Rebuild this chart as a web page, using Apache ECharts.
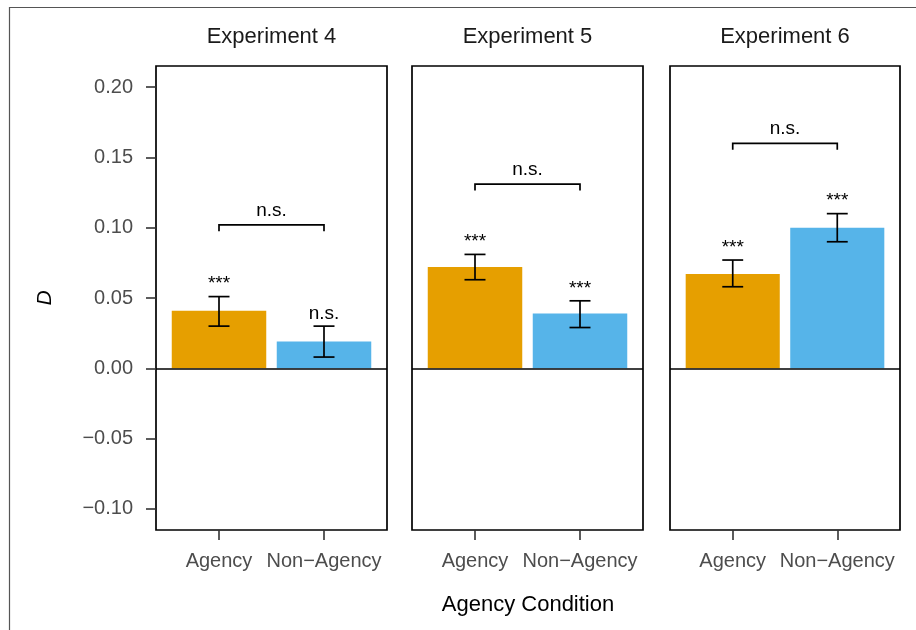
<!DOCTYPE html>
<html>
<head>
<meta charset="utf-8">
<script src="https://cdn.jsdelivr.net/npm/echarts@6/dist/echarts.min.js"></script>
<style>html,body{margin:0;padding:0;background:#fff;}#c{width:916px;height:630px;}</style>
</head>
<body>
<div id="c"></div>
<script>
// ---- data ----
const experiments = ['Experiment 4', 'Experiment 5', 'Experiment 6'];
const categories = ['Agency', 'Non\u2212Agency'];
const agencyMeans = [0.041, 0.072, 0.067];
const agencyLower = [0.030, 0.063, 0.058];
const agencyUpper = [0.051, 0.081, 0.077];
const agencySig = ['***', '***', '***'];
const nonAgencyMeans = [0.019, 0.039, 0.100];
const nonAgencyLower = [0.008, 0.029, 0.090];
const nonAgencyUpper = [0.030, 0.048, 0.110];
const nonAgencySig = ['n.s.', '***', '***'];
const bracketY = [0.102, 0.131, 0.160];
const bracketLabel = ['n.s.', 'n.s.', 'n.s.'];
const yTicks = [-0.10, -0.05, 0.00, 0.05, 0.10, 0.15, 0.20];

// ---- style ----
const FONT = 'Liberation Sans, Arial, Helvetica, sans-serif';
const colors = ['#E69F00', '#56B4E9'];
const panels = [{left: 156, width: 231}, {left: 412, width: 231}, {left: 670, width: 230}];
const gridTop = 66, gridBottom = 100; // 630-530

const chart = echarts.init(document.getElementById('c'), null, {renderer: 'canvas'});

const grids = [], xAxes = [], yAxes = [], series = [], graphics = [];

panels.forEach((p, i) => {
  grids.push({left: p.left, width: p.width, top: gridTop, bottom: gridBottom,
    show: true, borderColor: '#000', borderWidth: 1.7, backgroundColor: '#fff', containLabel: false});
  xAxes.push({
    type: 'value', gridIndex: i, min: 0.4, max: 2.6, position: 'bottom',
    axisLine: {show: false, onZero: false},
    splitLine: {show: false},
    axisTick: {show: true, customValues: [1, 2], length: 10, inside: false, lineStyle: {color: '#333', width: 1.6}},
    axisLabel: {show: true, customValues: [1, 2], margin: 21, fontFamily: FONT, fontSize: 20, color: '#4D4D4D',
      formatter: v => categories[Math.round(v) - 1]}
  });
  yAxes.push({
    type: 'value', gridIndex: i, min: -0.115, max: 0.215, position: 'left',
    axisLine: {show: false, onZero: false},
    splitLine: {show: false},
    axisTick: {show: i === 0, customValues: yTicks, length: 10, lineStyle: {color: '#333', width: 1.6}},
    axisLabel: {show: i === 0, customValues: yTicks, margin: 23, fontFamily: FONT, fontSize: 20, color: '#4D4D4D',
      formatter: v => (v < 0 ? '\u2212' : '') + Math.abs(v).toFixed(2)},
    name: i === 0 ? 'D' : '', nameLocation: 'middle', nameGap: 100, nameRotate: 90,
    nameTextStyle: {fontFamily: FONT, fontSize: 21, fontStyle: 'italic', color: '#000'}
  });

  const data = [
    [1, agencyMeans[i], agencyLower[i], agencyUpper[i], 0],
    [2, nonAgencyMeans[i], nonAgencyLower[i], nonAgencyUpper[i], 1]
  ];
  const sigs = [agencySig[i], nonAgencySig[i]];

  // bars
  series.push({
    type: 'custom', xAxisIndex: i, yAxisIndex: i, data: data, z: 2,
    renderItem: (params, api) => {
      const x = api.value(0), y = api.value(1), c = api.value(4);
      const p0 = api.coord([x - 0.45, y]);
      const p1 = api.coord([x + 0.45, 0]);
      return {type: 'rect', shape: {x: p0[0], y: p0[1], width: p1[0] - p0[0], height: p1[1] - p0[1]},
        style: {fill: colors[c]}};
    },
    markLine: {
      silent: true, symbol: 'none', label: {show: false},
      lineStyle: {color: '#000', width: 1.5, type: 'solid'},
      data: [{yAxis: 0}]
    }
  });
  // error bars + significance labels
  series.push({
    type: 'custom', xAxisIndex: i, yAxisIndex: i, data: data, z: 4,
    renderItem: (params, api) => {
      const x = api.value(0), lo = api.value(2), hi = api.value(3);
      const top = api.coord([x, hi]);
      const bot = api.coord([x, lo]);
      const capL = api.coord([x - 0.1, hi])[0];
      const capR = api.coord([x + 0.1, hi])[0];
      const ls = {stroke: '#000', lineWidth: 1.7};
      return {type: 'group', children: [
        {type: 'line', shape: {x1: top[0], y1: top[1], x2: bot[0], y2: bot[1]}, style: ls},
        {type: 'line', shape: {x1: capL, y1: top[1], x2: capR, y2: top[1]}, style: ls},
        {type: 'line', shape: {x1: capL, y1: bot[1], x2: capR, y2: bot[1]}, style: ls},
        {type: 'text', x: top[0], y: top[1] - 3,
          style: {text: sigs[params.dataIndex], fontFamily: FONT, fontSize: 19, fill: '#000',
            align: 'center', verticalAlign: 'bottom'}}
      ]};
    }
  });
  // comparison bracket
  series.push({
    type: 'custom', xAxisIndex: i, yAxisIndex: i, data: [[1, 2, bracketY[i]]], z: 4,
    renderItem: (params, api) => {
      const x1 = api.value(0), x2 = api.value(1), y = api.value(2);
      const a = api.coord([x1, y - 0.0045]);
      const b = api.coord([x1, y]);
      const c = api.coord([x2, y]);
      const d = api.coord([x2, y - 0.0045]);
      return {type: 'group', children: [
        {type: 'polyline', shape: {points: [a, b, c, d]}, style: {stroke: '#000', lineWidth: 1.7, fill: null}},
        {type: 'text', x: (b[0] + c[0]) / 2, y: b[1] - 5,
          style: {text: bracketLabel[i], fontFamily: FONT, fontSize: 19, fill: '#000',
            align: 'center', verticalAlign: 'bottom'}}
      ]};
    }
  });

  graphics.push({type: 'text', x: p.left + p.width / 2, y: 37,
    style: {text: experiments[i], fontFamily: FONT, fontSize: 22, fill: '#1A1A1A', align: 'center', verticalAlign: 'middle'}});
});

graphics.push({type: 'text', x: (panels[0].left + panels[2].left + panels[2].width) / 2, y: 605,
  style: {text: 'Agency Condition', fontFamily: FONT, fontSize: 22, fill: '#000', align: 'center', verticalAlign: 'middle'}});
graphics.push({type: 'polyline', shape: {points: [[9.5, 640], [9.5, 7.5], [920, 7.5]]},
  style: {stroke: '#555', lineWidth: 1.2, fill: null}, z: 10});

chart.setOption({
  animation: false,
  backgroundColor: '#fff',
  grid: grids, xAxis: xAxes, yAxis: yAxes, series: series, graphic: graphics
});
</script>
</body>
</html>
